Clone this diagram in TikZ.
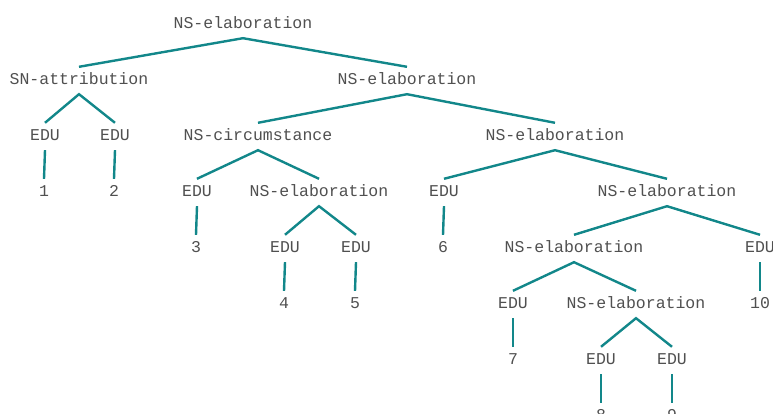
\documentclass[tikz,border=0pt]{standalone}
\usepackage{fontspec}
\setmonofont{Liberation Mono}
\definecolor{edgecol}{HTML}{12878A}
\definecolor{txtcol}{HTML}{505050}
\tikzset{
  lab/.style={anchor=base, font=\ttfamily\fontsize{16.5}{18}\selectfont, text=txtcol,
    inner xsep=0pt, inner ysep=0pt, text height=17.5pt, text depth=9.5pt},
  br/.style={draw=edgecol, line width=2.4pt},
}
\begin{document}
\begin{tikzpicture}[x=1pt,y=-1pt]
\useasboundingbox (0,0) rectangle (773,414);
% row 0
\node[lab] (r) at (243,28.5) {NS-elaboration};
% row 1
\node[lab] (sn) at (79,84.5) {SN-attribution};
\node[lab] (e1) at (407,84.5) {NS-elaboration};
% row 2
\node[lab] (u1) at (45,140.5) {EDU};
\node[lab] (u2) at (115,140.5) {EDU};
\node[lab] (ci) at (258,140.5) {NS-circumstance};
\node[lab] (e2) at (555,140.5) {NS-elaboration};
% row 3
\node[lab] (n1) at (44,196.5) {1};
\node[lab] (n2) at (114,196.5) {2};
\node[lab] (u3) at (197,196.5) {EDU};
\node[lab] (e3) at (319,196.5) {NS-elaboration};
\node[lab] (u6) at (444,196.5) {EDU};
\node[lab] (e4) at (667,196.5) {NS-elaboration};
% row 4
\node[lab] (n3) at (196,252.5) {3};
\node[lab] (u4) at (285,252.5) {EDU};
\node[lab] (u5) at (356,252.5) {EDU};
\node[lab] (n6) at (443,252.5) {6};
\node[lab] (e5) at (574,252.5) {NS-elaboration};
\node[lab] (u10) at (760,252.5) {EDU};
% row 5
\node[lab] (n4) at (284,308.5) {4};
\node[lab] (n5) at (355,308.5) {5};
\node[lab] (u7) at (513,308.5) {EDU};
\node[lab] (e6) at (636,308.5) {NS-elaboration};
\node[lab] (n10) at (760,308.5) {10};
% row 6
\node[lab] (n7) at (513,364.5) {7};
\node[lab] (u8) at (601,364.5) {EDU};
\node[lab] (u9) at (672,364.5) {EDU};
% row 7
\node[lab] (n8) at (601,420.5) {8};
\node[lab] (n9) at (672,420.5) {9};
% edges
\draw[br] (sn.north) -- (r.south) -- (e1.north);
\draw[br] (u1.north) -- (sn.south) -- (u2.north);
\draw[br] (ci.north) -- (e1.south) -- (e2.north);
\draw[br] (u1.south) -- (n1.north);
\draw[br] (u2.south) -- (n2.north);
\draw[br] (u3.north) -- (ci.south) -- (e3.north);
\draw[br] (u6.north) -- (e2.south) -- (e4.north);
\draw[br] (u3.south) -- (n3.north);
\draw[br] (u4.north) -- (e3.south) -- (u5.north);
\draw[br] (u6.south) -- (n6.north);
\draw[br] (e5.north) -- (e4.south) -- (u10.north);
\draw[br] (u4.south) -- (n4.north);
\draw[br] (u5.south) -- (n5.north);
\draw[br] (u7.north) -- (e5.south) -- (e6.north);
\draw[br] (u10.south) -- (n10.north);
\draw[br] (u7.south) -- (n7.north);
\draw[br] (u8.north) -- (e6.south) -- (u9.north);
\draw[br] (u8.south) -- (n8.north);
\draw[br] (u9.south) -- (n9.north);
\end{tikzpicture}
\end{document}
